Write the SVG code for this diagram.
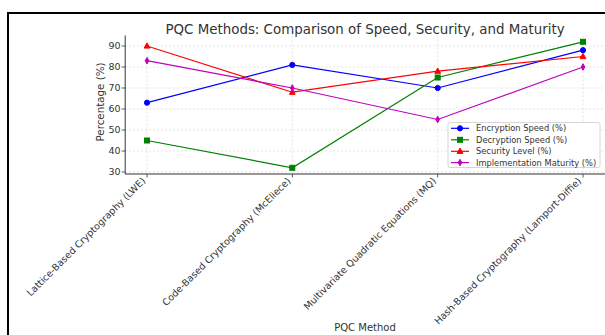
<svg xmlns="http://www.w3.org/2000/svg" width="605" height="335" viewBox="0 0 605 335">
<style>
text{font-family:"DejaVu Sans","Liberation Sans",sans-serif;fill:#333}
.grid{stroke:#d9d9d9;stroke-width:0.7;stroke-dasharray:2,2;fill:none}
.spine{stroke:#333;stroke-width:1;fill:none}
.tick{stroke:#333;stroke-width:0.8}
.ytl{font-size:9.5px;text-anchor:end}
.xtl{font-size:9.5px;text-anchor:end}
.ser{fill:none;stroke-width:1.2}
.leg{font-size:8.3px}
</style>
<rect width="605" height="335" fill="#fff"/>
<path d="M8,335 V13 H605" fill="none" stroke="#000" stroke-width="2"/>
<text x="365" y="34" font-size="13.4" text-anchor="middle">PQC Methods: Comparison of Speed, Security, and Maturity</text>
<g id="grid">
<path class="grid" d="M125.2,46H605M125.2,67H605M125.2,88H605M125.2,109H605M125.2,130H605M125.2,151H605M125.2,172H605"/>
<path class="grid" d="M147,35.5V174M292.3,35.5V174M437.7,35.5V174M583,35.5V174"/>
</g>
<g id="axes">
<path class="spine" d="M125.2,35.5V174H605"/>
<path class="tick" d="M121.7,46h3.5M121.7,67h3.5M121.7,88h3.5M121.7,109h3.5M121.7,130h3.5M121.7,151h3.5M121.7,172h3.5"/>
<path class="tick" d="M147,174v3.5M292.3,174v3.5M437.7,174v3.5M583,174v3.5"/>
<text class="ytl" x="120.5" y="49.4">90</text>
<text class="ytl" x="120.5" y="70.4">80</text>
<text class="ytl" x="120.5" y="91.4">70</text>
<text class="ytl" x="120.5" y="112.4">60</text>
<text class="ytl" x="120.5" y="133.4">50</text>
<text class="ytl" x="120.5" y="154.4">40</text>
<text class="ytl" x="120.5" y="175.4">30</text>
<text x="104" y="102" font-size="10.3" text-anchor="middle" transform="rotate(-90 104 102)">Percentage (%)</text>
<text class="xtl" transform="translate(146,181.5) rotate(-45)">Lattice-Based Cryptography (LWE)</text>
<text class="xtl" transform="translate(291.3,181.5) rotate(-45)">Code-Based Cryptography (McEliece)</text>
<text class="xtl" transform="translate(436.7,181.5) rotate(-45)">Multivariate Quadratic Equations (MQ)</text>
<text class="xtl" transform="translate(582,181.5) rotate(-45)">Hash-Based Cryptography (Lamport-Diffie)</text>
<text x="365" y="330.5" font-size="10" text-anchor="middle">PQC Method</text>
</g>
<defs>
<circle id="mc" r="2.6"/>
<rect id="ms" x="-2.5" y="-2.5" width="5" height="5"/>
<path id="mt" d="M0,-3.2L2.9,2.1H-2.9Z"/>
<path id="md" d="M0,-3.3L1.8,0L0,3.3L-1.8,0Z"/>
</defs>
<g id="series-encryption" stroke="#0000ff" fill="#0000ff">
<polyline class="ser" points="147,102.7 292.3,64.9 437.7,88 583,50.2"/>
<use href="#mc" x="147" y="102.7"/><use href="#mc" x="292.3" y="64.9"/><use href="#mc" x="437.7" y="88"/><use href="#mc" x="583" y="50.2"/>
</g>
<g id="series-decryption" stroke="#008000" fill="#008000">
<polyline class="ser" points="147,140.5 292.3,167.8 437.7,77.5 583,41.8"/>
<use href="#ms" x="147" y="140.5"/><use href="#ms" x="292.3" y="167.8"/><use href="#ms" x="437.7" y="77.5"/><use href="#ms" x="583" y="41.8"/>
</g>
<g id="series-security" stroke="#ff0000" fill="#ff0000">
<polyline class="ser" points="147,46 292.3,92.2 437.7,71.2 583,56.5"/>
<use href="#mt" x="147" y="46"/><use href="#mt" x="292.3" y="92.2"/><use href="#mt" x="437.7" y="71.2"/><use href="#mt" x="583" y="56.5"/>
</g>
<g id="series-maturity" stroke="#bf00bf" fill="#bf00bf">
<polyline class="ser" points="147,60.7 292.3,88 437.7,119.5 583,67"/>
<use href="#md" x="147" y="60.7"/><use href="#md" x="292.3" y="88"/><use href="#md" x="437.7" y="119.5"/><use href="#md" x="583" y="67"/>
</g>
<g id="legend">
<rect x="448" y="122.5" width="152" height="45" rx="2" fill="#fff" fill-opacity="0.85" stroke="#ccc" stroke-width="0.8"/>
<g stroke="#0000ff" fill="#0000ff"><path class="ser" d="M451,128.3H469"/><use href="#mc" x="460" y="128.3"/></g>
<g stroke="#008000" fill="#008000"><path class="ser" d="M451,139.8H469"/><use href="#ms" x="460" y="139.8"/></g>
<g stroke="#ff0000" fill="#ff0000"><path class="ser" d="M451,151.3H469"/><use href="#mt" x="460" y="151.3"/></g>
<g stroke="#bf00bf" fill="#bf00bf"><path class="ser" d="M451,162.6H469"/><use href="#md" x="460" y="162.6"/></g>
<text class="leg" x="476" y="131.2">Encryption Speed (%)</text>
<text class="leg" x="476" y="142.7">Decryption Speed (%)</text>
<text class="leg" x="476" y="154.2">Security Level (%)</text>
<text class="leg" x="476" y="165.5">Implementation Maturity (%)</text>
</g>
</svg>
